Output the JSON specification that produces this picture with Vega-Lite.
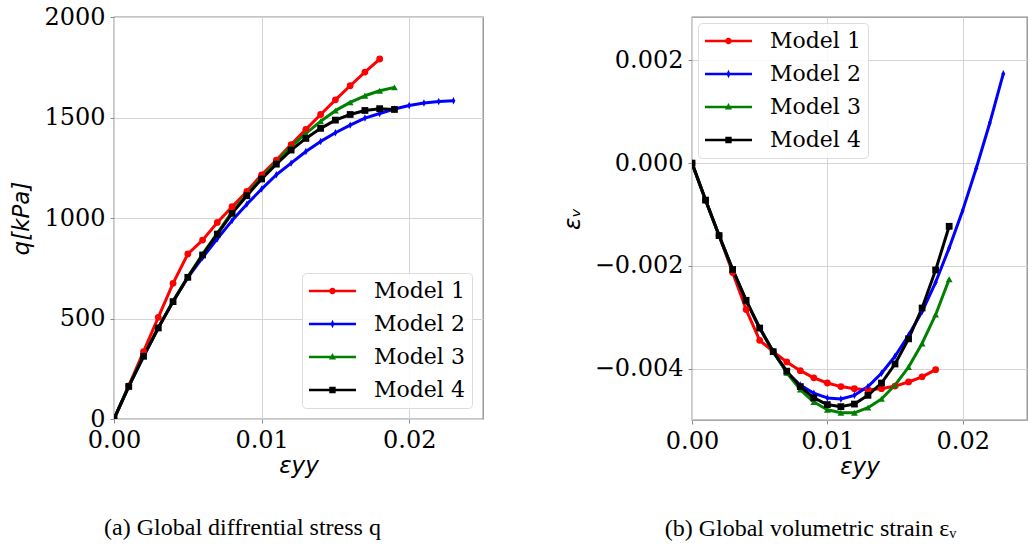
{
  "$schema": "https://vega.github.io/schema/vega-lite/v6.json",
  "padding": {"left": 10, "top": 4, "right": 0, "bottom": 0},
  "background": "white",
  "spacing": 76,
  "datasets": {
    "runs": [
      {"model": "Model 1", "eyy": 0.000, "q": 0, "ev": 0.0},
      {"model": "Model 1", "eyy": 0.001, "q": 165, "ev": -0.00072},
      {"model": "Model 1", "eyy": 0.002, "q": 335, "ev": -0.00141},
      {"model": "Model 1", "eyy": 0.003, "q": 506, "ev": -0.00213},
      {"model": "Model 1", "eyy": 0.004, "q": 675, "ev": -0.00285},
      {"model": "Model 1", "eyy": 0.005, "q": 821, "ev": -0.00345},
      {"model": "Model 1", "eyy": 0.006, "q": 890, "ev": -0.00367},
      {"model": "Model 1", "eyy": 0.007, "q": 978, "ev": -0.00387},
      {"model": "Model 1", "eyy": 0.008, "q": 1056, "ev": -0.00404},
      {"model": "Model 1", "eyy": 0.009, "q": 1132, "ev": -0.00418},
      {"model": "Model 1", "eyy": 0.010, "q": 1215, "ev": -0.00428},
      {"model": "Model 1", "eyy": 0.011, "q": 1288, "ev": -0.00435},
      {"model": "Model 1", "eyy": 0.012, "q": 1365, "ev": -0.00439},
      {"model": "Model 1", "eyy": 0.013, "q": 1441, "ev": -0.00441},
      {"model": "Model 1", "eyy": 0.014, "q": 1515, "ev": -0.00439},
      {"model": "Model 1", "eyy": 0.015, "q": 1588, "ev": -0.00434},
      {"model": "Model 1", "eyy": 0.016, "q": 1658, "ev": -0.00426},
      {"model": "Model 1", "eyy": 0.017, "q": 1726, "ev": -0.00416},
      {"model": "Model 1", "eyy": 0.018, "q": 1791, "ev": -0.00402},

      {"model": "Model 2", "eyy": 0.000, "q": 0, "ev": 0.0},
      {"model": "Model 2", "eyy": 0.001, "q": 162, "ev": -0.00072},
      {"model": "Model 2", "eyy": 0.002, "q": 310, "ev": -0.00141},
      {"model": "Model 2", "eyy": 0.003, "q": 453, "ev": -0.00207},
      {"model": "Model 2", "eyy": 0.004, "q": 586, "ev": -0.00268},
      {"model": "Model 2", "eyy": 0.005, "q": 703, "ev": -0.00321},
      {"model": "Model 2", "eyy": 0.006, "q": 803, "ev": -0.00367},
      {"model": "Model 2", "eyy": 0.007, "q": 897, "ev": -0.00407},
      {"model": "Model 2", "eyy": 0.008, "q": 987, "ev": -0.00432},
      {"model": "Model 2", "eyy": 0.009, "q": 1069, "ev": -0.00448},
      {"model": "Model 2", "eyy": 0.010, "q": 1144, "ev": -0.00457},
      {"model": "Model 2", "eyy": 0.011, "q": 1215, "ev": -0.00459},
      {"model": "Model 2", "eyy": 0.012, "q": 1273, "ev": -0.00452},
      {"model": "Model 2", "eyy": 0.013, "q": 1331, "ev": -0.00435},
      {"model": "Model 2", "eyy": 0.014, "q": 1381, "ev": -0.00409},
      {"model": "Model 2", "eyy": 0.015, "q": 1424, "ev": -0.00376},
      {"model": "Model 2", "eyy": 0.016, "q": 1462, "ev": -0.00335},
      {"model": "Model 2", "eyy": 0.017, "q": 1497, "ev": -0.00289},
      {"model": "Model 2", "eyy": 0.018, "q": 1520, "ev": -0.00232},
      {"model": "Model 2", "eyy": 0.019, "q": 1542, "ev": -0.00165},
      {"model": "Model 2", "eyy": 0.020, "q": 1560, "ev": -0.00092},
      {"model": "Model 2", "eyy": 0.021, "q": 1572, "ev": -0.00010},
      {"model": "Model 2", "eyy": 0.022, "q": 1580, "ev": 0.00078},
      {"model": "Model 2", "eyy": 0.023, "q": 1583, "ev": 0.00174},

      {"model": "Model 3", "eyy": 0.000, "q": 0, "ev": 0.0},
      {"model": "Model 3", "eyy": 0.001, "q": 162, "ev": -0.00072},
      {"model": "Model 3", "eyy": 0.002, "q": 313, "ev": -0.00141},
      {"model": "Model 3", "eyy": 0.003, "q": 455, "ev": -0.00207},
      {"model": "Model 3", "eyy": 0.004, "q": 586, "ev": -0.00267},
      {"model": "Model 3", "eyy": 0.005, "q": 707, "ev": -0.00321},
      {"model": "Model 3", "eyy": 0.006, "q": 820, "ev": -0.00367},
      {"model": "Model 3", "eyy": 0.007, "q": 925, "ev": -0.00408},
      {"model": "Model 3", "eyy": 0.008, "q": 1030, "ev": -0.00441},
      {"model": "Model 3", "eyy": 0.009, "q": 1120, "ev": -0.00465},
      {"model": "Model 3", "eyy": 0.010, "q": 1202, "ev": -0.00480},
      {"model": "Model 3", "eyy": 0.011, "q": 1278, "ev": -0.00486},
      {"model": "Model 3", "eyy": 0.012, "q": 1355, "ev": -0.00486},
      {"model": "Model 3", "eyy": 0.013, "q": 1421, "ev": -0.00476},
      {"model": "Model 3", "eyy": 0.014, "q": 1481, "ev": -0.00459},
      {"model": "Model 3", "eyy": 0.015, "q": 1534, "ev": -0.00432},
      {"model": "Model 3", "eyy": 0.016, "q": 1575, "ev": -0.00397},
      {"model": "Model 3", "eyy": 0.017, "q": 1608, "ev": -0.00351},
      {"model": "Model 3", "eyy": 0.018, "q": 1633, "ev": -0.00295},
      {"model": "Model 3", "eyy": 0.019, "q": 1650, "ev": -0.00226},

      {"model": "Model 4", "eyy": 0.000, "q": 0, "ev": 0.0},
      {"model": "Model 4", "eyy": 0.001, "q": 162, "ev": -0.00072},
      {"model": "Model 4", "eyy": 0.002, "q": 312, "ev": -0.00141},
      {"model": "Model 4", "eyy": 0.003, "q": 453, "ev": -0.00207},
      {"model": "Model 4", "eyy": 0.004, "q": 584, "ev": -0.00267},
      {"model": "Model 4", "eyy": 0.005, "q": 705, "ev": -0.00321},
      {"model": "Model 4", "eyy": 0.006, "q": 816, "ev": -0.00367},
      {"model": "Model 4", "eyy": 0.007, "q": 920, "ev": -0.00405},
      {"model": "Model 4", "eyy": 0.008, "q": 1023, "ev": -0.00435},
      {"model": "Model 4", "eyy": 0.009, "q": 1111, "ev": -0.00457},
      {"model": "Model 4", "eyy": 0.010, "q": 1194, "ev": -0.00470},
      {"model": "Model 4", "eyy": 0.011, "q": 1268, "ev": -0.00474},
      {"model": "Model 4", "eyy": 0.012, "q": 1338, "ev": -0.00469},
      {"model": "Model 4", "eyy": 0.013, "q": 1396, "ev": -0.00452},
      {"model": "Model 4", "eyy": 0.014, "q": 1446, "ev": -0.00428},
      {"model": "Model 4", "eyy": 0.015, "q": 1487, "ev": -0.00391},
      {"model": "Model 4", "eyy": 0.016, "q": 1515, "ev": -0.00342},
      {"model": "Model 4", "eyy": 0.017, "q": 1535, "ev": -0.00282},
      {"model": "Model 4", "eyy": 0.018, "q": 1544, "ev": -0.00208},
      {"model": "Model 4", "eyy": 0.019, "q": 1540, "ev": -0.00123}
    ]
  },
  "resolve": {"scale": {"color": "independent", "shape": "independent"}},
  "hconcat": [
    {
      "width": 369,
      "height": 402,
      "data": {"name": "runs"},
      "title": {
        "text": "(a) Global diffrential stress q",
        "orient": "bottom",
        "anchor": "middle",
        "frame": "group",
        "font": "Liberation Serif",
        "fontSize": 24,
        "fontWeight": "normal",
        "color": "#000000",
        "offset": 39,
        "dx": -56
      },
      "encoding": {
        "x": {
          "field": "eyy",
          "type": "quantitative",
          "scale": {"domain": [0, 0.025], "nice": false, "zero": false},
          "axis": {"title": "εyy", "values": [0, 0.01, 0.02], "format": ".2f", "titlePadding": 2}
        },
        "y": {
          "field": "q",
          "type": "quantitative",
          "scale": {"domain": [0, 2000], "nice": false},
          "axis": {
            "title": "q[kPa]",
            "values": [0, 500, 1000, 1500, 2000],
            "format": "d",
            "titlePadding": 10
          }
        }
      },
      "resolve": {"scale": {"color": "independent", "shape": "independent"}},
      "layer": [
        {
          "mark": {"type": "line", "strokeWidth": 3, "strokeJoin": "round", "clip": true},
          "encoding": {
            "color": {
              "field": "model", "type": "nominal", "legend": null,
              "scale": {"domain": ["Model 1", "Model 2", "Model 3", "Model 4"], "range": ["#ff0000", "#0000ff", "#008000", "#000000"]}
            },
            "order": {"field": "eyy", "type": "quantitative"}
          }
        },
        {
          "mark": {"type": "point", "filled": true, "opacity": 1, "size": 46, "clip": true},
          "encoding": {
            "color": {
              "field": "model", "type": "nominal", "legend": null,
              "scale": {"domain": ["Model 1", "Model 2", "Model 3", "Model 4"], "range": ["#ff0000", "#0000ff", "#008000", "#000000"]}
            },
            "shape": {
              "field": "model", "type": "nominal", "legend": null,
              "scale": {"domain": ["Model 1", "Model 2", "Model 3", "Model 4"], "range": ["circle", "M0,-1.1L0.55,0L0,1.1L-0.55,0Z", "triangle-up", "square"]}
            }
          }
        },
        {
          "transform": [{"filter": "false"}],
          "mark": {"type": "point", "filled": true, "opacity": 1},
          "encoding": {
            "color": {
              "field": "model", "type": "nominal",
              "scale": {"domain": ["Model 1", "Model 2", "Model 3", "Model 4"], "range": ["#ff0000", "#0000ff", "#008000", "#000000"]},
              "legend": {"orient": "bottom-right", "offset": 11, "title": null}
            },
            "shape": {
              "field": "model", "type": "nominal",
              "scale": {"domain": ["Model 1", "Model 2", "Model 3", "Model 4"], "range": [
                "M-1,-0.12H3.27V0.12H-1Z M0.835,0A0.3,0.3,0,1,1,1.435,0A0.3,0.3,0,1,1,0.835,0Z",
                "M-1,-0.12H3.27V0.12H-1Z M1.135,-0.38L1.315,0L1.135,0.38L0.955,0Z",
                "M-1,-0.12H3.27V0.12H-1Z M1.135,-0.36L1.455,0.22L0.815,0.22Z",
                "M-1,-0.12H3.27V0.12H-1Z M0.845,-0.29H1.425V0.29H0.845Z"
              ]},
              "legend": {"orient": "bottom-right", "offset": 11, "title": null}
            }
          }
        }
      ]
    },
    {
      "width": 335,
      "height": 403,
      "data": {"name": "runs"},
      "title": {
        "text": "(b) Global volumetric strain εᵥ",
        "orient": "bottom",
        "anchor": "middle",
        "frame": "group",
        "font": "Liberation Serif",
        "fontSize": 24,
        "fontWeight": "normal",
        "color": "#000000",
        "offset": 39,
        "dx": -49
      },
      "encoding": {
        "x": {
          "field": "eyy",
          "type": "quantitative",
          "scale": {"domain": [0, 0.02475], "nice": false, "zero": false},
          "axis": {"title": "εyy", "values": [0, 0.01, 0.02], "format": ".2f", "titlePadding": 2}
        },
        "y": {
          "field": "ev",
          "type": "quantitative",
          "scale": {"domain": [-0.005, 0.002844], "nice": false, "zero": false},
          "axis": {
            "title": "εᵥ",
            "values": [-0.004, -0.002, 0, 0.002],
            "format": ".3f",
            "titlePadding": 10
          }
        }
      },
      "resolve": {"scale": {"color": "independent", "shape": "independent"}},
      "layer": [
        {
          "mark": {"type": "line", "strokeWidth": 3, "strokeJoin": "round", "clip": true},
          "encoding": {
            "color": {
              "field": "model", "type": "nominal", "legend": null,
              "scale": {"domain": ["Model 1", "Model 2", "Model 3", "Model 4"], "range": ["#ff0000", "#0000ff", "#008000", "#000000"]}
            },
            "order": {"field": "eyy", "type": "quantitative"}
          }
        },
        {
          "mark": {"type": "point", "filled": true, "opacity": 1, "size": 46, "clip": true},
          "encoding": {
            "color": {
              "field": "model", "type": "nominal", "legend": null,
              "scale": {"domain": ["Model 1", "Model 2", "Model 3", "Model 4"], "range": ["#ff0000", "#0000ff", "#008000", "#000000"]}
            },
            "shape": {
              "field": "model", "type": "nominal", "legend": null,
              "scale": {"domain": ["Model 1", "Model 2", "Model 3", "Model 4"], "range": ["circle", "M0,-1.1L0.55,0L0,1.1L-0.55,0Z", "triangle-up", "square"]}
            }
          }
        },
        {
          "transform": [{"filter": "false"}],
          "mark": {"type": "point", "filled": true, "opacity": 1},
          "encoding": {
            "color": {
              "field": "model", "type": "nominal",
              "scale": {"domain": ["Model 1", "Model 2", "Model 3", "Model 4"], "range": ["#ff0000", "#0000ff", "#008000", "#000000"]},
              "legend": {"orient": "top-left", "offset": 6, "title": null}
            },
            "shape": {
              "field": "model", "type": "nominal",
              "scale": {"domain": ["Model 1", "Model 2", "Model 3", "Model 4"], "range": [
                "M-1,-0.12H3.27V0.12H-1Z M0.835,0A0.3,0.3,0,1,1,1.435,0A0.3,0.3,0,1,1,0.835,0Z",
                "M-1,-0.12H3.27V0.12H-1Z M1.135,-0.38L1.315,0L1.135,0.38L0.955,0Z",
                "M-1,-0.12H3.27V0.12H-1Z M1.135,-0.36L1.455,0.22L0.815,0.22Z",
                "M-1,-0.12H3.27V0.12H-1Z M0.845,-0.29H1.425V0.29H0.845Z"
              ]},
              "legend": {"orient": "top-left", "offset": 6, "title": null}
            }
          }
        }
      ]
    }
  ],
  "config": {
    "view": {"stroke": "#8c8c8c", "strokeWidth": 1.3},
    "axis": {
      "labelFont": "DejaVu Serif",
      "labelFontSize": 24,
      "labelColor": "#000000",
      "labelPadding": 5,
      "labelFlush": false,
      "labelOverlap": false,
      "titleFont": "DejaVu Sans",
      "titleFontStyle": "italic",
      "titleFontWeight": "normal",
      "titleFontSize": 23,
      "titleColor": "#000000",
      "gridColor": "#d4d4d4",
      "gridWidth": 1,
      "tickColor": "#8c8c8c",
      "tickSize": 4,
      "tickWidth": 1,
      "domain": false
    },
    "legend": {
      "labelFont": "DejaVu Serif",
      "labelFontSize": 22,
      "labelColor": "#000000",
      "labelOffset": 43,
      "fillColor": "rgba(255,255,255,0.85)",
      "strokeColor": "#dcdcdc",
      "cornerRadius": 4,
      "padding": 7,
      "symbolSize": 484,
      "symbolStrokeWidth": 0,
      "rowPadding": 11
    }
  }
}
